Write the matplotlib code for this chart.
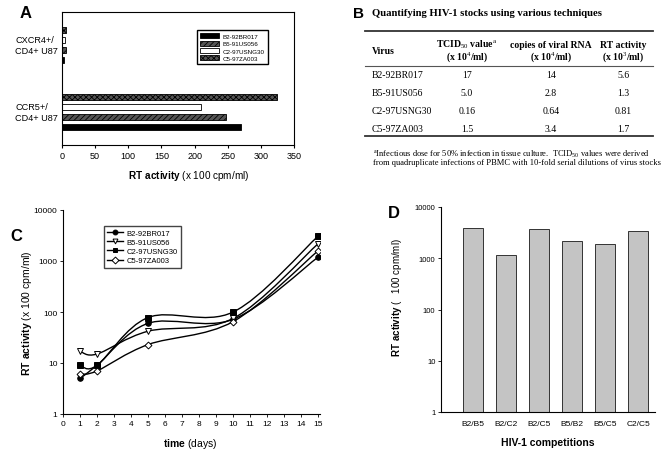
import numpy as np
import matplotlib
matplotlib.use("Agg")
import matplotlib.pyplot as plt
from matplotlib.path import Path
from matplotlib.patches import PathPatch
from matplotlib.lines import Line2D

plt.rcParams['font.family'] = ['Liberation Sans', 'DejaVu Sans']
plt.rcParams['mathtext.fontset'] = 'custom'
plt.rcParams['mathtext.rm'] = 'Liberation Serif'
plt.rcParams['mathtext.bf'] = 'Liberation Sans:bold'
plt.rcParams['mathtext.default'] = 'rm'

# ---- data ----
viruses = ['B2-92BR017', 'B5-91US056', 'C2-97USNG30', 'C5-97ZA003']

# panel A: RT activity (x 100 cpm/ml) in two cell lines
cell_lines = ['CCR5+/\nCD4+ U87', 'CXCR4+/\nCD4+ U87']
rt_ccr5 = [270, 247, 210, 325]
rt_cxcr4 = [3, 6, 4, 6]

# panel B: table
tcid50 = ['17', '5.0', '0.16', '1.5']
rna_copies = ['14', '2.8', '0.64', '3.4']
rt_table = ['5.6', '1.3', '0.81', '1.7']

# panel C: growth kinetics
days = [1, 2, 5, 10, 15]
kin_b2 = [5, 9, 60, 72, 1200]
kin_b5 = [17, 15, 42, 75, 2200]
kin_c2 = [9, 9, 78, 100, 3100]
kin_c5 = [6, 7, 23, 65, 1600]

# panel D: competitions
competitions = ['B2/B5', 'B2/C2', 'B2/C5', 'B5/B2', 'B5/C5', 'C2/C5']
comp_rt = [3900, 1150, 3700, 2200, 1900, 3400]

W, H = 670, 452
fig = plt.figure(figsize=(W / 100, H / 100), dpi=100)


def px_axes(left, top, right, bottom):
    return fig.add_axes([left / W, 1 - bottom / H, (right - left) / W, (bottom - top) / H])


def fx(x):
    return x / W


def fy(y):
    return 1 - y / H


# ---------------- Panel A ----------------
axA = px_axes(62, 13, 294, 146)
styles = [dict(color='black', edgecolor='black'),
          dict(color='#555555', edgecolor='black', hatch='//////'),
          dict(color='white', edgecolor='black'),
          dict(color='#555555', edgecolor='black', hatch='xxxxxx')]
offsets = [-0.225, -0.075, 0.075, 0.225]
plt.rcParams['hatch.color'] = '#222222'
plt.rcParams['hatch.linewidth'] = 0.6
for i, name in enumerate(viruses):
    axA.barh([0 + offsets[i], 1 + offsets[i]], [rt_ccr5[i], rt_cxcr4[i]],
             height=0.09, linewidth=0.6, label=name, **styles[i])
axA.set_xlim(0, 350)
axA.set_ylim(-0.5, 1.5)
axA.set_xticks(range(0, 351, 50))
axA.set_yticks([])
axA.tick_params(axis='x', labelsize=6.5, length=2, pad=2)
for s in axA.spines.values():
    s.set_linewidth(0.8)
for ypix, lab in zip([113, 46], cell_lines):
    fig.text(fx(15), fy(ypix), lab, fontsize=6.6, ha='left', va='center', linespacing=1.3)
axA.legend(loc='upper left', bbox_to_anchor=(fx(194), fy(28)), bbox_transform=fig.transFigure,
           fontsize=4.5, frameon=True, fancybox=False, edgecolor='black', framealpha=1,
           handlelength=3.0, handleheight=0.9, borderpad=0.5, labelspacing=0.25,
           handletextpad=0.6)
fig.text(fx(20), fy(14), 'A', fontsize=12, fontweight='bold', va='center')
fig.text(fx(189), fy(176), r'$\mathbf{RT\ activity}$ (x 100 cpm/ml)', fontsize=7.2,
         ha='center', va='center')

# ---------------- Panel B ----------------
serif = 'Liberation Serif'
fig.text(fx(353), fy(14), 'B', fontsize=11, fontweight='bold', va='center')
fig.text(fx(372), fy(14), 'Quantifying HIV-1 stocks using various techniques',
         fontsize=7.7, fontweight='bold', family=serif, va='center')
tab_left, tab_right = 365, 653
fig.add_artist(Line2D([fx(tab_left), fx(tab_right)], [fy(32), fy(32)], color='#333333', lw=1.3))
fig.add_artist(Line2D([fx(tab_left), fx(tab_right)], [fy(67), fy(67)], color='#555555', lw=0.8))
fig.add_artist(Line2D([fx(tab_left), fx(tab_right)], [fy(137), fy(137)], color='#333333', lw=1.3))
fs_tab = 7
hdr = dict(fontsize=fs_tab, fontweight='bold', family=serif, va='center', ha='center')
fig.text(fx(372), fy(51), 'Virus', fontsize=fs_tab, fontweight='bold', family=serif, va='center')
fig.text(fx(467), fy(45), r'TCID$_{50}$ value$^{a}$', **hdr)
fig.text(fx(467), fy(57), r'(x 10$^{4}$/ml)', **hdr)
fig.text(fx(551), fy(45), 'copies of viral RNA', **hdr)
fig.text(fx(551), fy(57), r'(x 10$^{4}$/ml)', **hdr)
fig.text(fx(623), fy(45), 'RT activity', **hdr)
fig.text(fx(623), fy(57), r'(x 10$^{3}$/ml)', **hdr)
row_y = [76, 94, 112, 129]
for i, name in enumerate(viruses):
    y = fy(row_y[i])
    fig.text(fx(372), y, name, fontsize=fs_tab, family=serif, va='center')
    fig.text(fx(467), y, tcid50[i], fontsize=fs_tab, family=serif, va='center', ha='center')
    fig.text(fx(551), y, rna_copies[i], fontsize=fs_tab, family=serif, va='center', ha='center')
    fig.text(fx(623), y, rt_table[i], fontsize=fs_tab, family=serif, va='center', ha='center')
fig.text(fx(373), fy(154), r'$^{a}$Infectious dose for 50% infection in tissue culture.  TCID$_{50}$ values were derived',
         fontsize=6.1, family=serif, va='center')
fig.text(fx(373), fy(163), 'from quadruplicate infections of PBMC with 10-fold serial dilutions of virus stocks',
         fontsize=6.1, family=serif, va='center')


# ---------------- Panel C ----------------
def smooth_path(xs, ys):
    # Excel-like smoothed line: Catmull-Rom bezier in (x, log y) space
    pts = np.column_stack([xs, np.log10(ys)]).astype(float)
    ext = np.vstack([pts[0], pts, pts[-1]])
    verts = [pts[0]]
    codes = [Path.MOVETO]
    for i in range(len(pts) - 1):
        p0, p1, p2, p3 = ext[i], ext[i + 1], ext[i + 2], ext[i + 3]
        c1 = p1 + (p2 - p0) / 6
        c2 = p2 - (p3 - p1) / 6
        verts += [c1, c2, p2]
        codes += [Path.CURVE4] * 3
    verts = np.array(verts)
    verts[:, 1] = 10 ** verts[:, 1]
    return Path(verts, codes)


axC = px_axes(63, 211, 320, 415)
axC.set_yscale('log')
series = [(kin_b2, 'o', 'black'), (kin_b5, 'v', 'white'),
          (kin_c2, 's', 'black'), (kin_c5, 'D', 'white')]
for (vals, mk, fc), name in zip(series, viruses):
    axC.add_patch(PathPatch(smooth_path(days, vals), fill=False, lw=1.0, edgecolor='black', zorder=2))
    axC.plot(days, vals, linestyle='none', marker=mk, markerfacecolor=fc,
             markeredgecolor='black', markersize=4 if mk != 'D' else 3.5, mew=0.7, zorder=3)
handles = [Line2D([], [], color='black', lw=1.0, marker=mk, markerfacecolor=fc,
                  markeredgecolor='black', markersize=3.5, mew=0.7) for _, mk, fc in series]
axC.legend(handles, viruses, loc='upper left', bbox_to_anchor=(fx(100), fy(223)),
           bbox_transform=fig.transFigure, fontsize=5.5, frameon=True, fancybox=False,
           edgecolor='#444444', framealpha=1, handlelength=2.0, borderpad=0.45,
           labelspacing=0.25, handletextpad=0.5)
axC.set_xlim(0, 15.1)
axC.set_ylim(1, 10000)
axC.set_xticks(range(0, 16))
axC.set_yticks([1, 10, 100, 1000, 10000])
axC.set_yticklabels(['1', '10', '100', '1000', '10000'])
axC.minorticks_off()
axC.tick_params(labelsize=6, length=2, pad=2, width=0.6)
axC.spines['top'].set_visible(False)
axC.spines['right'].set_visible(False)
fig.text(fx(10), fy(237), 'C', fontsize=12, fontweight='bold', va='center')
fig.text(fx(27), fy(313), r'$\mathbf{RT\ activity}$ (x 100 cpm/ml)', fontsize=7.5,
         rotation=90, ha='center', va='center')
fig.text(fx(190), fy(444), r'$\mathbf{time}$ (days)', fontsize=7.5, ha='center', va='center')

# ---------------- Panel D ----------------
axD = px_axes(441, 208, 655, 413)
axD.set_yscale('log')
axD.bar(range(len(competitions)), comp_rt, width=0.6, color='#c4c4c4',
        edgecolor='#333333', linewidth=0.7)
axD.set_xlim(-0.96, 5.5)
axD.set_ylim(1, 10000)
axD.set_xticks(range(len(competitions)))
axD.set_xticklabels(competitions)
axD.set_yticks([1, 10, 100, 1000, 10000])
axD.set_yticklabels(['1', '10', '100', '1000', '10000'])
axD.minorticks_off()
axD.tick_params(axis='y', labelsize=5.5, length=2, pad=2, width=0.6)
axD.tick_params(axis='x', labelsize=6, length=0, pad=6)
axD.spines['top'].set_visible(False)
axD.spines['right'].set_visible(False)
fig.text(fx(388), fy(214), 'D', fontsize=12, fontweight='bold', va='center')
fig.text(fx(397), fy(298), r'$\mathbf{RT\ activity}$ (   100 cpm/ml)', fontsize=7,
         rotation=90, ha='center', va='center')
fig.text(fx(548), fy(443), r'HIV-1 competitions', fontsize=7.5, fontweight='bold',
         ha='center', va='center')

fig.savefig('out.png', dpi=100)
